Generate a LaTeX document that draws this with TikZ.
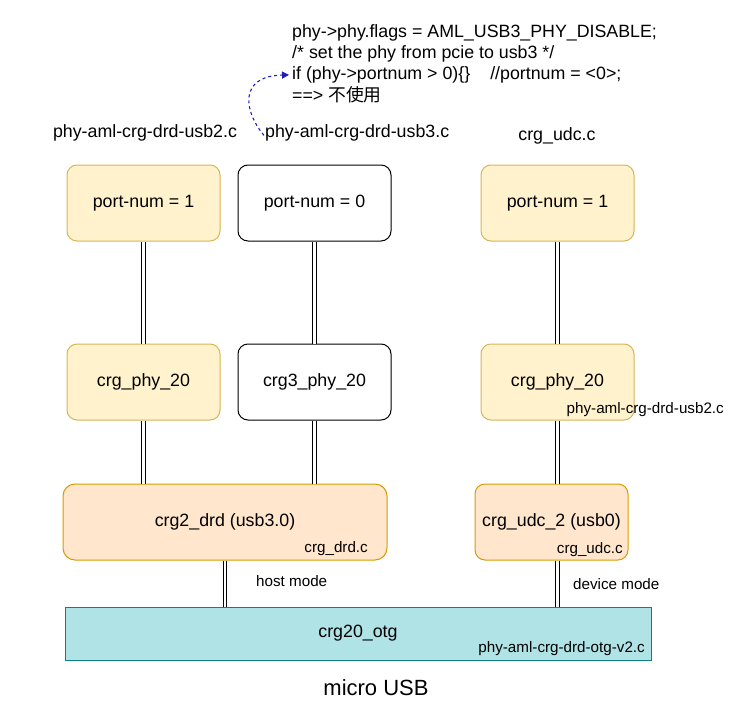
\documentclass[tikz,border=0pt]{standalone}
\usepackage{fontspec}
\setmainfont{Liberation Sans}
\newfontfamily\cjk{Noto Sans CJK SC}
\usetikzlibrary{arrows.meta,calc}
\definecolor{yelfill}{HTML}{FFF2CC}
\definecolor{yelline}{HTML}{D6B656}
\definecolor{orfill}{HTML}{FFE6CC}
\definecolor{orline}{HTML}{D79B00}
\definecolor{cyfill}{HTML}{B0E3E6}
\definecolor{cyline}{HTML}{0E8088}
\definecolor{arrowblue}{HTML}{1E1EB4}
\begin{document}
\begin{tikzpicture}[x=1pt,y=-1pt,
  box/.style={draw, rounded corners=10pt, minimum width=153pt, minimum height=76pt,
    line width=1pt, inner sep=0pt, font=\fontsize{17.8}{21}\selectfont},
  yelbox/.style={box, fill=yelfill, draw=yelline},
  plainbox/.style={box, fill=white, draw=black},
  orbox/.style={box, fill=orfill, draw=orline},
  otgbox/.style={draw=cyline, fill=cyfill, line width=1pt, minimum width=586pt,
    minimum height=53pt, inner sep=0pt, font=\fontsize{17.8}{21}\selectfont},
  lbl/.style={inner sep=0pt, font=\fontsize{17.8}{21}\selectfont},
  small/.style={inner sep=0pt, font=\fontsize{15.2}{18}\selectfont},
  dbl/.style={draw=black, double=white, double distance=2.6pt, line width=0.9pt},
  note/.style={draw=arrowblue, dashed, dash pattern=on 3pt off 3pt, line width=1.1pt,
    -{Triangle[length=7pt,width=7pt,fill=arrowblue]}, shorten >=3pt}
]
\useasboundingbox (0,0) rectangle (753,720);

% code excerpt
\node[lbl, anchor=base west] (c1) at (292,37) {phy->phy.flags = AML\_USB3\_PHY\_DISABLE;};
\node[lbl, anchor=base west] (c2) at (292,58.5) {/* set the phy from pcie to usb3 */};
\node[lbl, anchor=base west] (c3) at (292,79.5) {if (phy->portnum > 0)\{\}\hspace{20pt}//portnum = <0>;};
\node[lbl, anchor=base west] (c4) at (292,101) {==> {\cjk 不使用}};

% source file captions
\node[lbl, anchor=base] (u2) at (145,137) {phy-aml-crg-drd-usb2.c};
\node[lbl, anchor=base west] (u3) at (265,137) {phy-aml-crg-drd-usb3.c};
\node[lbl, anchor=base] (udcf) at (557,140) {crg\_udc.c};

\draw[note] ($(u3.west)+(-1,3)$) .. controls (244,112) and (238,76) .. (c3.west);

% port-num row
\node[yelbox] (p1) at (143.5,203) {port-num = 1};
\node[plainbox] (p2) at (314.5,203) {port-num = 0};
\node[yelbox] (p3) at (557.5,203) {port-num = 1};

% phy row
\node[yelbox] (ph1) at (143.5,382) {crg\_phy\_20};
\node[plainbox] (ph2) at (314.5,382) {crg3\_phy\_20};
\node[yelbox] (ph3) at (557.5,382) {crg\_phy\_20};
\node[small, anchor=base east] (ph3f) at (724,413) {phy-aml-crg-drd-usb2.c};

% controller row
\node[orbox, rounded corners=12pt, minimum width=324pt] (drd) at (225,522) {crg2\_drd (usb3.0)};
\node[small, anchor=base east] (drdf) at (368,552) {crg\_drd.c};
\node[orbox, minimum width=153pt] (udc) at (551.5,522) {crg\_udc\_2 (usb0)};
\node[small, anchor=base east] (udcf2) at (623,553) {crg\_udc.c};

% otg block
\node[otgbox] (otg) at (358,633.5) {crg20\_otg};
\node[small, anchor=base east] (otgf) at (645,652) {phy-aml-crg-drd-otg-v2.c};

\node[inner sep=0pt, font=\fontsize{22}{26}\selectfont] (usb) at (376,688) {micro USB};

% links
\draw[dbl] (p1) -- (ph1);
\draw[dbl] (p2) -- (ph2);
\draw[dbl] (p3) -- (ph3);
\draw[dbl] (ph1) -- (ph1 |- drd.north);
\draw[dbl] (ph2) -- (ph2 |- drd.north);
\draw[dbl] (ph3) -- (ph3 |- udc.north);
\draw[dbl] (drd) -- (drd |- otg.north);
\draw[dbl] (ph3 |- udc.south) -- (ph3 |- otg.north);

\node[small, anchor=west] (host) at (256,581) {host mode};
\node[small, anchor=west] (dev) at (573,584) {device mode};
\end{tikzpicture}
\end{document}
